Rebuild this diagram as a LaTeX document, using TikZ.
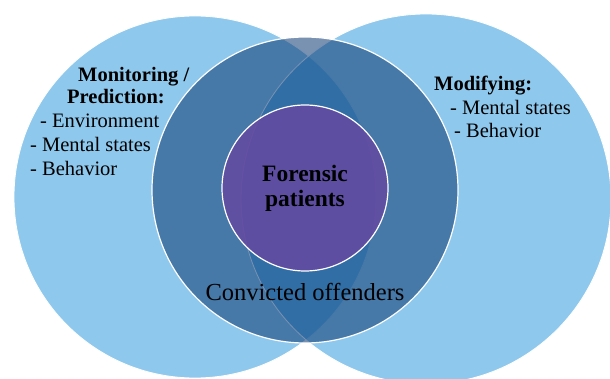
\documentclass[tikz,border=0pt]{standalone}
\usepackage{fontspec}
\setmainfont{Liberation Serif}
\definecolor{setblue}{RGB}{67,163,223}
\definecolor{offblue}{RGB}{11,56,113}
\definecolor{corepurple}{RGB}{99,75,162}
\begin{document}
\begin{tikzpicture}[x=1pt, y=-1pt,
    bigset/.style={circle, fill=setblue, fill opacity=0.6, draw=white, line width=0.8pt, inner sep=0pt},
    midset/.style={circle, fill=offblue, fill opacity=0.55, draw=white, line width=1.2pt, minimum size=306pt, inner sep=0pt},
    coreset/.style={circle, fill=corepurple, fill opacity=0.9, draw=white, line width=1.2pt, minimum size=166pt, inner sep=0pt},
    side/.style={anchor=base west, inner sep=0pt, font=\fontsize{20.5}{23.5}\selectfont},
    head/.style={side, font=\fontsize{20.5}{23.5}\selectfont\bfseries}]
    \useasboundingbox (0,0) rectangle (610,379);
    \node[bigset, minimum size=362pt] (monitor) at (195,197) {};
    \node[bigset, minimum size=370pt] (modify) at (426,199) {};
    \node[midset] (offenders) at (305,190) {};
    \node[coreset] (forensic) at (305,188) {};
    % left set
    \node[head] (mon1) at (78,82) {Monitoring /};
    \node[head] (mon2) at (67,104) {Prediction:};
    \node[side] (mon3) at (40,128) {- Environment};
    \node[side] (mon4) at (30,152) {- Mental states};
    \node[side] (mon5) at (30,176) {- Behavior};
    % right set
    \node[head] (mod1) at (434,91) {Modifying:};
    \node[side] (mod2) at (450,115) {- Mental states};
    \node[side] (mod3) at (454,138) {- Behavior};
    % middle
    \node[align=center, font=\fontsize{23.5}{25}\selectfont\bfseries] (forlabel) at (forensic) {Forensic\\patients};
    \node[anchor=base, inner sep=0pt, font=\fontsize{24.5}{26}\selectfont] (offlabel) at (305,300) {Convicted offenders};
\end{tikzpicture}
\end{document}
